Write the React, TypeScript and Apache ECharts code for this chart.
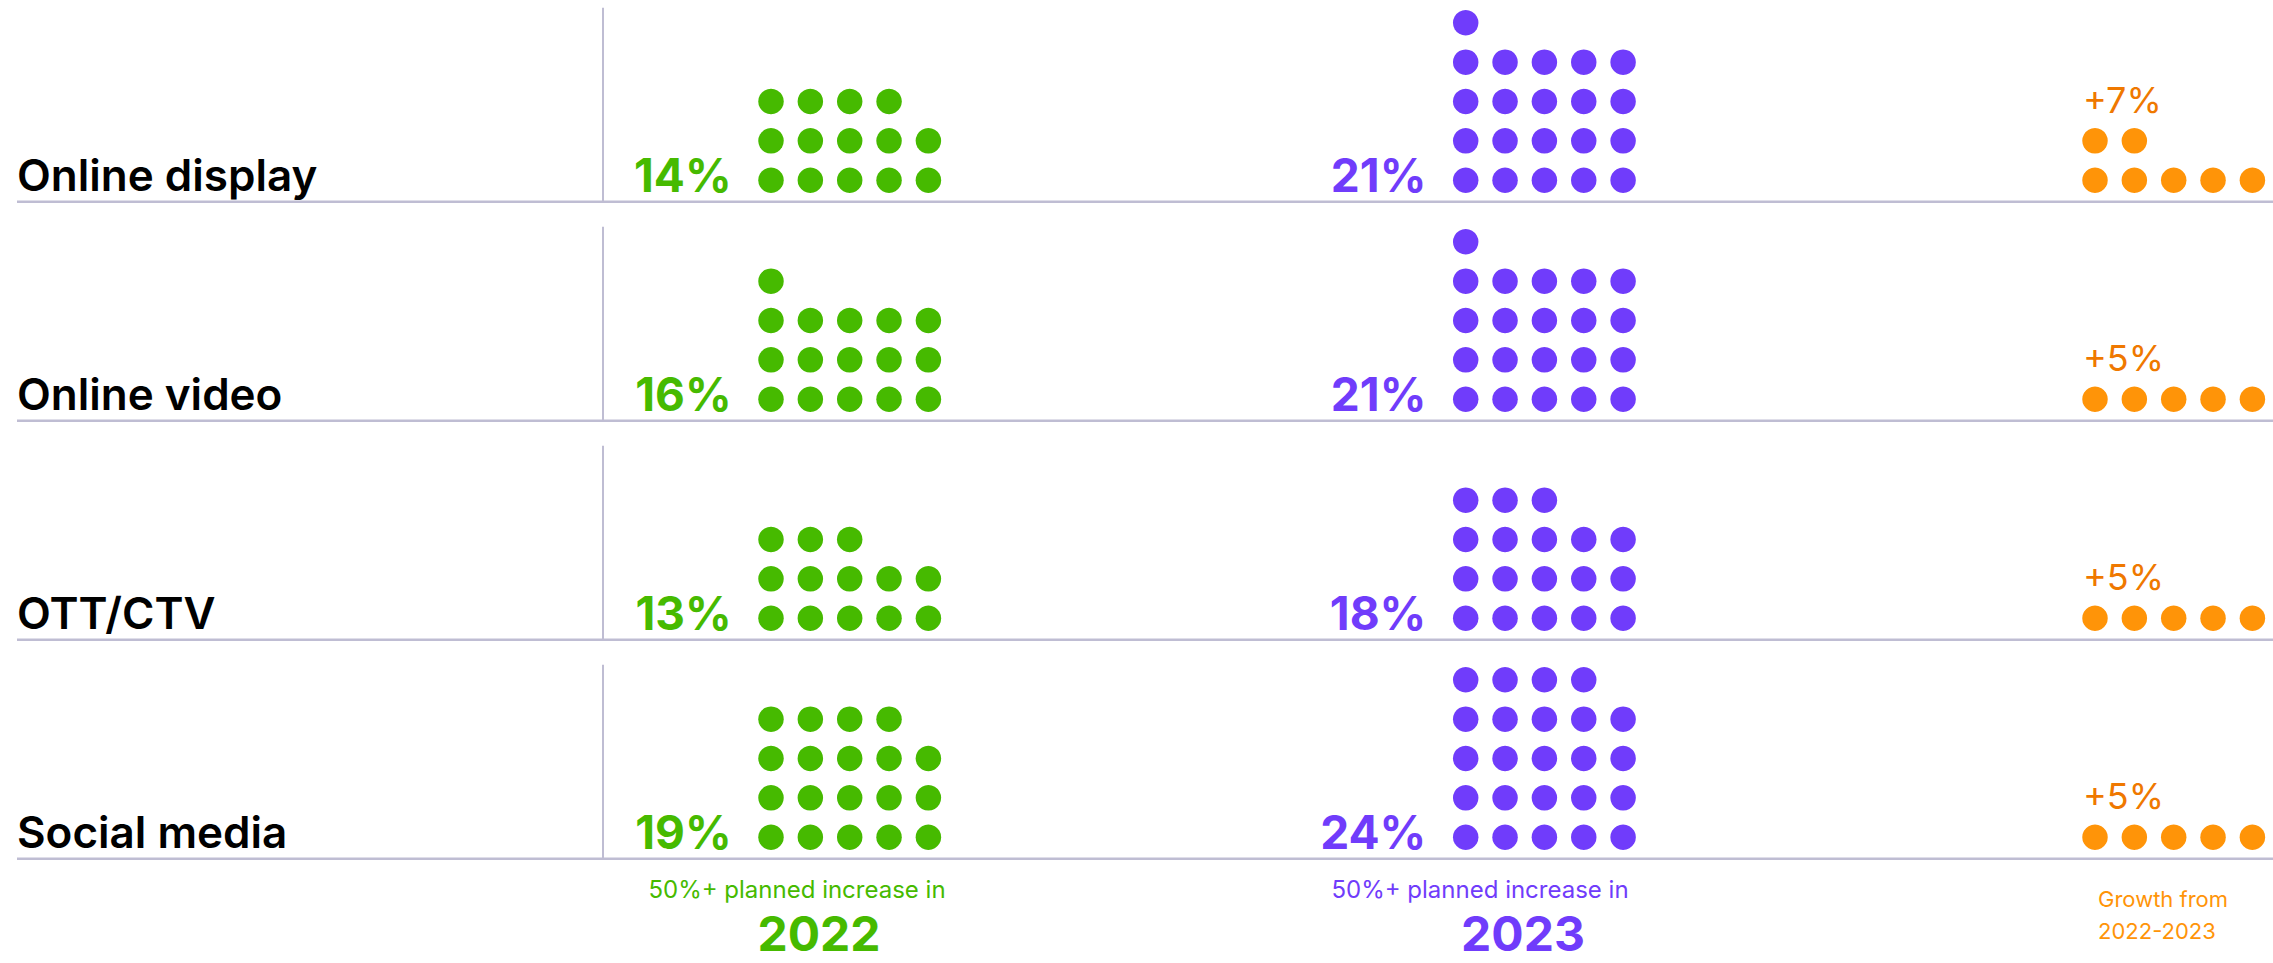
import React, { useEffect, useRef } from "react";
import * as echarts from "echarts";

// ---- data ----
const categories = ["Online display", "Online video", "OTT/CTV", "Social media"];
const values2022 = [14, 16, 13, 19];
const values2023 = [21, 21, 18, 24];
const growth = [7, 5, 5, 5];
const groupTitles = ["50%+ planned increase in", "50%+ planned increase in", "Growth from"];
const groupSubtitles = ["2022", "2023", "2022-2023"];

// ---- layout ----
const W = 2273;
const H = 963;
const STEP = 39.35; // dot pitch (px)
const SEP0 = 201.7; // first separator y
const ROW_H = 219; // separator spacing
const DOT_GAP = 21.5; // bottom dot centre above separator
const GROUP_X = [771, 1465.7, 2095]; // first dot column centre per group
const PER_ROW = 5;
const DOT_SIZE = 25.5;

const GREEN = "#46BA00";
const PURPLE = "#703CFB";
const ORANGE = "#FF9408";
const ORANGE_TXT = "#EF7800";
const LINE = "#BFBDD3";
const FONT = "Inter, 'Noto Sans', sans-serif";

const baseY = (c: number) => (SEP0 + c * ROW_H - DOT_GAP) / STEP;
const colX = (g: number) => GROUP_X[g] / STEP;

function dots(values: number[], g: number) {
  const out: number[][] = [];
  values.forEach((v, c) => {
    for (let i = 0; i < v; i++) {
      out.push([colX(g) + (i % PER_ROW), baseY(c) - Math.floor(i / PER_ROW)]);
    }
  });
  return out;
}

const hidden = { color: "rgba(0,0,0,0)", opacity: 1 };

export default function App() {
  const ref = useRef<HTMLDivElement>(null);
  useEffect(() => {
    document.body.style.margin = "0";
    if (!ref.current) return;
    const chart = echarts.init(ref.current, undefined, { renderer: "svg" });

    const pctLabelSeries = (values: number[], g: number, color: string) => ({
      type: "scatter",
      symbolSize: 1,
      itemStyle: hidden,
      silent: true,
      data: values.map((v, c) => ({ value: [colX(g) - 1, baseY(c)], name: v + "%" })),
      label: {
        show: true,
        position: "inside",
        align: "right",
        verticalAlign: "middle",
        offset: [0, -5],
        formatter: (p: any) => p.name,
        color,
        opacity: 1,
        fontFamily: FONT,
        fontSize: 46,
        fontWeight: 700,
      },
    });

    const lines: any[] = [];
    categories.forEach((_, c) => {
      const sy = SEP0 + c * ROW_H;
      lines.push({
        type: "line",
        shape: { x1: 17, y1: sy, x2: W, y2: sy },
        style: { stroke: LINE, lineWidth: 2.5 },
        silent: true,
      });
      lines.push({
        type: "line",
        shape: { x1: 603, y1: sy - ROW_H + 25, x2: 603, y2: sy },
        style: { stroke: LINE, lineWidth: 2 },
        silent: true,
      });
    });

    const titleStyle = (color: string, size: number, weight: number, align: string) => ({
      fill: color,
      fontFamily: FONT,
      fontSize: size,
      fontWeight: weight,
      lineHeight: size,
      align,
      verticalAlign: "middle",
    });

    const texts: any[] = [
      { type: "text", x: 797, y: 889, style: { text: groupTitles[0], ...titleStyle(GREEN, 24, 400, "center") } },
      { type: "text", x: 819, y: 933, style: { text: groupSubtitles[0], ...titleStyle(GREEN, 48, 700, "center") } },
      { type: "text", x: 1480, y: 889, style: { text: groupTitles[1], ...titleStyle(PURPLE, 24, 400, "center") } },
      { type: "text", x: 1523, y: 933, style: { text: groupSubtitles[1], ...titleStyle(PURPLE, 48, 700, "center") } },
      { type: "text", x: 2098, y: 899, style: { text: groupTitles[2], ...titleStyle(ORANGE, 22, 400, "left") } },
      { type: "text", x: 2098, y: 931, style: { text: groupSubtitles[2], ...titleStyle(ORANGE, 22, 400, "left") } },
    ];

    const dotSeries = (values: number[], g: number, color: string) => ({
      type: "scatter",
      symbolSize: DOT_SIZE,
      itemStyle: { color, opacity: 1 },
      data: dots(values, g),
      silent: true,
    });

    chart.setOption({
      animation: false,
      grid: { left: 0, right: 0, top: 0, bottom: 0, containLabel: false },
      xAxis: { type: "value", min: 0, max: W / STEP, show: false },
      yAxis: { type: "value", min: 0, max: H / STEP, inverse: true, show: false },
      graphic: [...lines, ...texts],
      series: [
        dotSeries(values2022, 0, GREEN),
        dotSeries(values2023, 1, PURPLE),
        dotSeries(growth, 2, ORANGE),
        pctLabelSeries(values2022, 0, GREEN),
        pctLabelSeries(values2023, 1, PURPLE),
        {
          type: "scatter",
          symbolSize: 1,
          itemStyle: hidden,
          silent: true,
          data: growth.map((v, c) => ({
            value: [colX(2), baseY(c) - Math.ceil(v / PER_ROW)],
            name: "+" + v + "%",
          })),
          label: {
            show: true,
            position: "inside",
            align: "left",
            verticalAlign: "middle",
            offset: [-12, -2],
            formatter: (p: any) => p.name,
            color: ORANGE_TXT,
            opacity: 1,
            fontFamily: FONT,
            fontSize: 36,
            fontWeight: 400,
          },
        },
        {
          type: "scatter",
          symbolSize: 1,
          itemStyle: hidden,
          silent: true,
          data: categories.map((name, c) => ({ value: [17 / STEP, baseY(c)], name })),
          label: {
            show: true,
            position: "inside",
            align: "left",
            verticalAlign: "middle",
            offset: [0, -5],
            formatter: (p: any) => p.name,
            color: "#000000",
            opacity: 1,
            fontFamily: FONT,
            fontSize: 44,
            fontWeight: 600,
          },
        },
      ],
    });
    return () => chart.dispose();
  }, []);
  return <div ref={ref} style={{ width: W, height: H }} />;
}
